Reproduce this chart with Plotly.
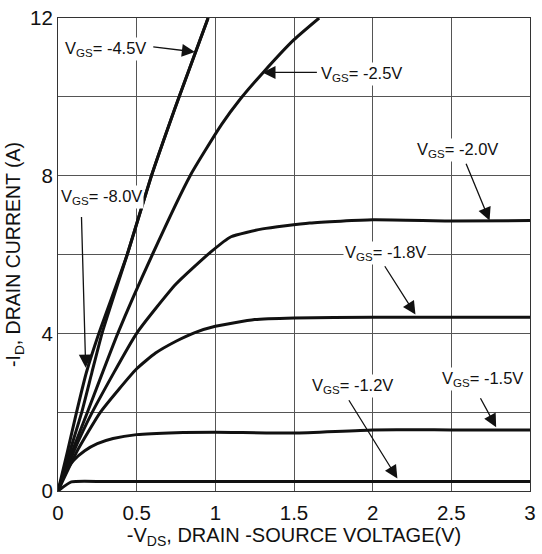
import plotly.graph_objects as go

# ---- data ----
vds_8_0 = [0, 0.06, 0.118, 0.18, 0.26, 0.44, 0.594, 0.713, 0.77, 0.954]
id_8_0 = [0, 1.0, 2.0, 3.0, 4.0, 6.0, 8.0, 9.37, 10.0, 12.0]

vds_4_5 = [0, 0.075, 0.151, 0.215, 0.28, 0.44, 0.594, 0.713, 0.77, 0.954]
id_4_5 = [0, 1.0, 2.0, 3.0, 4.0, 6.0, 8.0, 9.37, 10.0, 12.0]

vds_2_5 = [0, 0.09, 0.187, 0.38, 0.60, 0.84, 1.04, 1.16, 1.30, 1.50, 1.66]
id_2_5 = [0, 1.0, 2.0, 4.0, 6.0, 8.0, 9.3, 9.95, 10.6, 11.45, 12.0]

vds_2_0 = [0, 0.1, 0.218, 0.5, 0.75, 0.97, 1.1, 1.3, 1.6, 2.0, 2.5, 3.0]
id_2_0 = [0, 1.0, 2.0, 4.0, 5.25, 6.06, 6.45, 6.65, 6.8, 6.88, 6.85, 6.86]

vds_1_8 = [0, 0.12, 0.27, 0.5, 0.62, 0.75, 0.87, 1.0, 1.25, 1.5, 2.0, 2.5, 3.0]
id_1_8 = [0, 1.0, 2.0, 3.1, 3.5, 3.8, 4.02, 4.18, 4.35, 4.39, 4.41, 4.41, 4.41]

vds_1_5 = [0, 0.04, 0.1, 0.17, 0.25, 0.35, 0.5, 0.75, 1.0, 1.5, 2.0, 2.5, 3.0]
id_1_5 = [0, 0.45, 0.78, 1.02, 1.2, 1.33, 1.43, 1.48, 1.49, 1.47, 1.55, 1.55, 1.55]

vds_1_2 = [0, 0.085, 0.3, 1.0, 2.0, 3.0]
id_1_2 = [0, 0.23, 0.24, 0.24, 0.24, 0.24]

series = [
    (vds_8_0, id_8_0), (vds_4_5, id_4_5), (vds_2_5, id_2_5), (vds_2_0, id_2_0),
    (vds_1_8, id_1_8), (vds_1_5, id_1_5), (vds_1_2, id_1_2),
]

x_tickvals = [0, 0.5, 1, 1.5, 2, 2.5, 3]
x_ticktext = ["0", "0.5", "1", "1.5", "2", "2.5", "3"]
y_tickvals = [0, 2, 4, 6, 8, 10, 12]
y_ticktext = ["0", "", "4", "", "8", "", "12"]

# label texts, label centers, arrow tails and heads (data units)
labels = ["V<sub>GS</sub>= -4.5V", "V<sub>GS</sub>= -2.5V", "V<sub>GS</sub>= -2.0V",
          "V<sub>GS</sub>= -1.8V", "V<sub>GS</sub>= -8.0V", "V<sub>GS</sub>= -1.5V",
          "V<sub>GS</sub>= -1.2V"]
label_x = [0.30, 1.93, 2.54, 2.08, 0.276, 2.70, 1.87]
label_y = [11.22, 10.59, 8.65, 6.04, 7.45, 2.84, 2.67]
tail_x = [0.596, 1.655, 2.59, 2.071, 0.149, 2.68, 1.843]
tail_y = [11.27, 10.62, 8.34, 5.74, 6.99, 2.39, 2.34]
head_x = [0.870, 1.30, 2.743, 2.272, 0.176, 2.785, 2.157]
head_y = [11.14, 10.62, 6.86, 4.48, 3.13, 1.62, 0.32]

FONT = "Liberation Sans, Arial, sans-serif"
GRID = "#555555"

fig = go.Figure()
for xs, ys in series:
    fig.add_trace(go.Scatter(x=xs, y=ys, mode="lines",
                             line=dict(color="#111111", width=3, shape="spline", smoothing=0.5),
                             showlegend=False, hoverinfo="skip"))

annotations = []
for i in range(len(labels)):
    annotations.append(dict(x=head_x[i], y=head_y[i], ax=tail_x[i], ay=tail_y[i],
                            xref="x", yref="y", axref="x", ayref="y", text="",
                            showarrow=True, arrowhead=2, arrowsize=2.0, arrowwidth=1.3,
                            arrowcolor="#111111", standoff=0))
    annotations.append(dict(x=label_x[i], y=label_y[i], xref="x", yref="y",
                            text=labels[i], showarrow=False, bgcolor="white",
                            font=dict(family=FONT, size=16.5, color="#111111"),
                            borderpad=1))

fig.update_layout(
    width=542, height=554,
    margin=dict(l=58, r=6, t=13, b=63),
    paper_bgcolor="white", plot_bgcolor="white",
    font=dict(family=FONT, color="#111111"),
    annotations=annotations,
    xaxis=dict(range=[0, 3], tickvals=x_tickvals, ticktext=x_ticktext,
               showgrid=True, gridcolor=GRID, gridwidth=1,
               showline=True, linecolor="#333333", linewidth=1, mirror=True,
               zeroline=False, ticks="", tickfont=dict(size=20.5, family=FONT),
               ticklabelstandoff=3,
               title=dict(text="-V<sub>DS</sub>, DRAIN -SOURCE VOLTAGE(V)",
                          font=dict(size=20, family=FONT), standoff=2)),
    yaxis=dict(range=[0, 12], tickvals=y_tickvals, ticktext=y_ticktext,
               showgrid=True, gridcolor=GRID, gridwidth=1,
               showline=True, linecolor="#333333", linewidth=1, mirror=True,
               zeroline=False, ticks="", tickfont=dict(size=20.5, family=FONT),
               title=dict(text="-I<sub>D</sub>, DRAIN CURRENT (A)",
                          font=dict(size=19.5, family=FONT), standoff=4)),
)

fig.write_html("out.html")
